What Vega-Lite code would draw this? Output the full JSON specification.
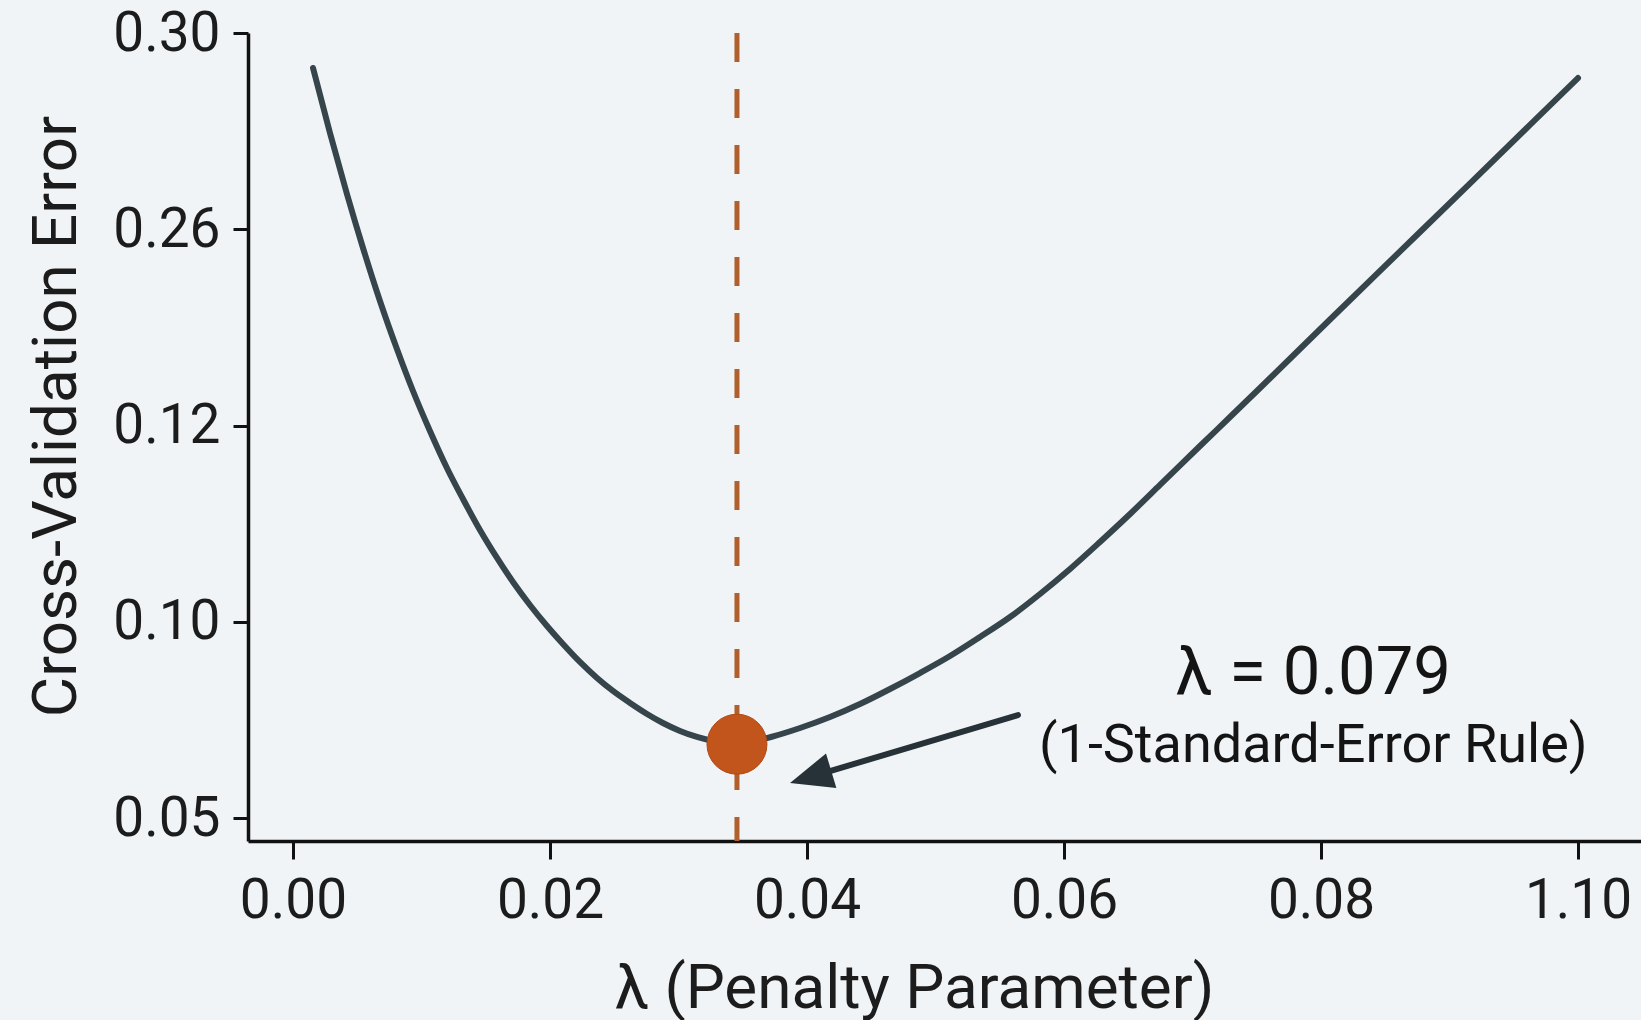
{
  "$schema": "https://vega.github.io/schema/vega-lite/v6.json",
  "width": 1393,
  "height": 808,
  "autosize": {"type": "none"},
  "padding": {"left": 248, "top": 33, "right": 0, "bottom": 179},
  "background": "#f1f4f6",
  "config": {
    "view": {"stroke": null},
    "font": "Roboto",
    "axis": {
      "grid": false,
      "labelFont": "Roboto",
      "titleFont": "Roboto",
      "labelFontSize": 55,
      "labelColor": "#1c1c1c",
      "titleFontSize": 62,
      "titleFontWeight": "normal",
      "titleColor": "#1c1c1c",
      "domainColor": "#111111",
      "domainWidth": 3.5,
      "tickColor": "#111111",
      "tickWidth": 3,
      "labelOverlap": false,
      "labelFlush": false
    }
  },
  "datasets": {
    "curve": [
      {"lambda": 0.00156, "cv": 0.29287},
      {"lambda": 0.00288, "cv": 0.27962},
      {"lambda": 0.0042, "cv": 0.26718},
      {"lambda": 0.00545, "cv": 0.24662},
      {"lambda": 0.00677, "cv": 0.20881},
      {"lambda": 0.00809, "cv": 0.17457},
      {"lambda": 0.00934, "cv": 0.14461},
      {"lambda": 0.01066, "cv": 0.11944},
      {"lambda": 0.01198, "cv": 0.11567},
      {"lambda": 0.01323, "cv": 0.11251},
      {"lambda": 0.01455, "cv": 0.10935},
      {"lambda": 0.01588, "cv": 0.1065},
      {"lambda": 0.01712, "cv": 0.10405},
      {"lambda": 0.01844, "cv": 0.10171},
      {"lambda": 0.01977, "cv": 0.09892},
      {"lambda": 0.02101, "cv": 0.09433},
      {"lambda": 0.02233, "cv": 0.08975},
      {"lambda": 0.02366, "cv": 0.08567},
      {"lambda": 0.0249, "cv": 0.08236},
      {"lambda": 0.02623, "cv": 0.0793},
      {"lambda": 0.02755, "cv": 0.0765},
      {"lambda": 0.02879, "cv": 0.0742},
      {"lambda": 0.03012, "cv": 0.07217},
      {"lambda": 0.03144, "cv": 0.07064},
      {"lambda": 0.03268, "cv": 0.06962},
      {"lambda": 0.03362, "cv": 0.06911},
      {"lambda": 0.03455, "cv": 0.06885},
      {"lambda": 0.03556, "cv": 0.06936},
      {"lambda": 0.0372, "cv": 0.07064},
      {"lambda": 0.03946, "cv": 0.07293},
      {"lambda": 0.04179, "cv": 0.07573},
      {"lambda": 0.04412, "cv": 0.07904},
      {"lambda": 0.04646, "cv": 0.08287},
      {"lambda": 0.04879, "cv": 0.08694},
      {"lambda": 0.05113, "cv": 0.09127},
      {"lambda": 0.05346, "cv": 0.09611},
      {"lambda": 0.0558, "cv": 0.10048},
      {"lambda": 0.05813, "cv": 0.10283},
      {"lambda": 0.06047, "cv": 0.10538},
      {"lambda": 0.0628, "cv": 0.10813},
      {"lambda": 0.06514, "cv": 0.11098},
      {"lambda": 0.06747, "cv": 0.11394},
      {"lambda": 0.07058, "cv": 0.11791},
      {"lambda": 0.07292, "cv": 0.12606},
      {"lambda": 0.07525, "cv": 0.14675},
      {"lambda": 0.0807, "cv": 0.19562},
      {"lambda": 0.08615, "cv": 0.2442},
      {"lambda": 0.0916, "cv": 0.26937},
      {"lambda": 0.09626, "cv": 0.28127},
      {"lambda": 0.1, "cv": 0.29083}
    ],
    "marker": [{"lambda": 0.03455, "cv": 0.0688}],
    "arrow": [{"x1": 0.05642, "y1": 0.07624, "x2": 0.04028, "y2": 0.06047}],
    "notes": [
      {"lambda": 0.0794, "cv": 0.08159, "label": "λ = 0.079", "kind": "main"},
      {"lambda": 0.0794, "cv": 0.06427, "label": "(1-Standard-Error Rule)", "kind": "sub"}
    ]
  },
  "layer": [
    {
      "data": {"name": "curve"},
      "mark": {"type": "line", "color": "#36454c", "strokeWidth": 6, "interpolate": "monotone", "strokeCap": "round"},
      "encoding": {
        "x": {
          "field": "lambda", "type": "quantitative",
          "scale": {"domain": [-0.0035, 0.1049], "nice": false, "zero": false},
          "axis": {
            "values": [0, 0.02, 0.04, 0.06, 0.08, 0.1],
            "labelExpr": "datum.value > 0.09 ? '1.10' : format(datum.value, '.2f')",
            "title": "λ (Penalty Parameter)",
            "tickSize": 18,
            "labelPadding": 15,
            "titleX": 666,
            "titleY": 166,
            "titleBaseline": "alphabetic",
            "titleAlign": "center"
          }
        },
        "y": {
          "field": "cv", "type": "quantitative",
          "scale": {
            "domain": [0.0441, 0.05, 0.10, 0.12, 0.26, 0.30],
            "range": [808, 785, 588.75, 392.5, 196.25, 0],
            "nice": false, "zero": false
          },
          "axis": {
            "values": [0.05, 0.1, 0.12, 0.26, 0.3],
            "format": ".2f",
            "title": "Cross-Validation Error",
            "tickSize": 15,
            "labelPadding": 13,
            "titleAngle": -90,
            "titleX": -173,
            "titleY": 383,
            "titleBaseline": "alphabetic",
            "titleAlign": "center"
          }
        }
      }
    },
    {
      "data": {"name": "marker"},
      "mark": {"type": "rule", "color": "#b0602e", "strokeWidth": 5, "strokeDash": [29, 27]},
      "encoding": {
        "x": {"field": "lambda", "type": "quantitative"}
      }
    },
    {
      "data": {"name": "marker"},
      "mark": {"type": "point", "shape": "circle", "filled": true, "size": 3600, "color": "#c2551b", "opacity": 1, "stroke": "#b04a15", "strokeWidth": 1},
      "encoding": {
        "x": {"field": "lambda", "type": "quantitative"},
        "y": {"field": "cv", "type": "quantitative"}
      }
    },
    {
      "data": {"name": "arrow"},
      "mark": {"type": "rule", "color": "#263238", "strokeWidth": 6, "strokeCap": "round"},
      "encoding": {
        "x": {"field": "x1", "type": "quantitative"},
        "y": {"field": "y1", "type": "quantitative"},
        "x2": {"field": "x2"},
        "y2": {"field": "y2"}
      }
    },
    {
      "data": {"name": "arrow"},
      "mark": {"type": "point", "shape": "M0,-1L0.84,1L-0.84,1Z", "filled": true, "size": 1849, "angle": 253.3, "color": "#263238", "opacity": 1},
      "encoding": {
        "x": {"field": "x2", "type": "quantitative"},
        "y": {"field": "y2", "type": "quantitative"}
      }
    },
    {
      "data": {"name": "notes"},
      "mark": {"type": "text", "align": "center", "baseline": "alphabetic", "color": "#141414", "font": "Roboto"},
      "encoding": {
        "x": {"field": "lambda", "type": "quantitative"},
        "y": {"field": "cv", "type": "quantitative"},
        "text": {"field": "label"},
        "size": {
          "field": "kind", "type": "nominal",
          "scale": {"domain": ["main", "sub"], "range": [67, 54]},
          "legend": null
        }
      }
    }
  ]
}
